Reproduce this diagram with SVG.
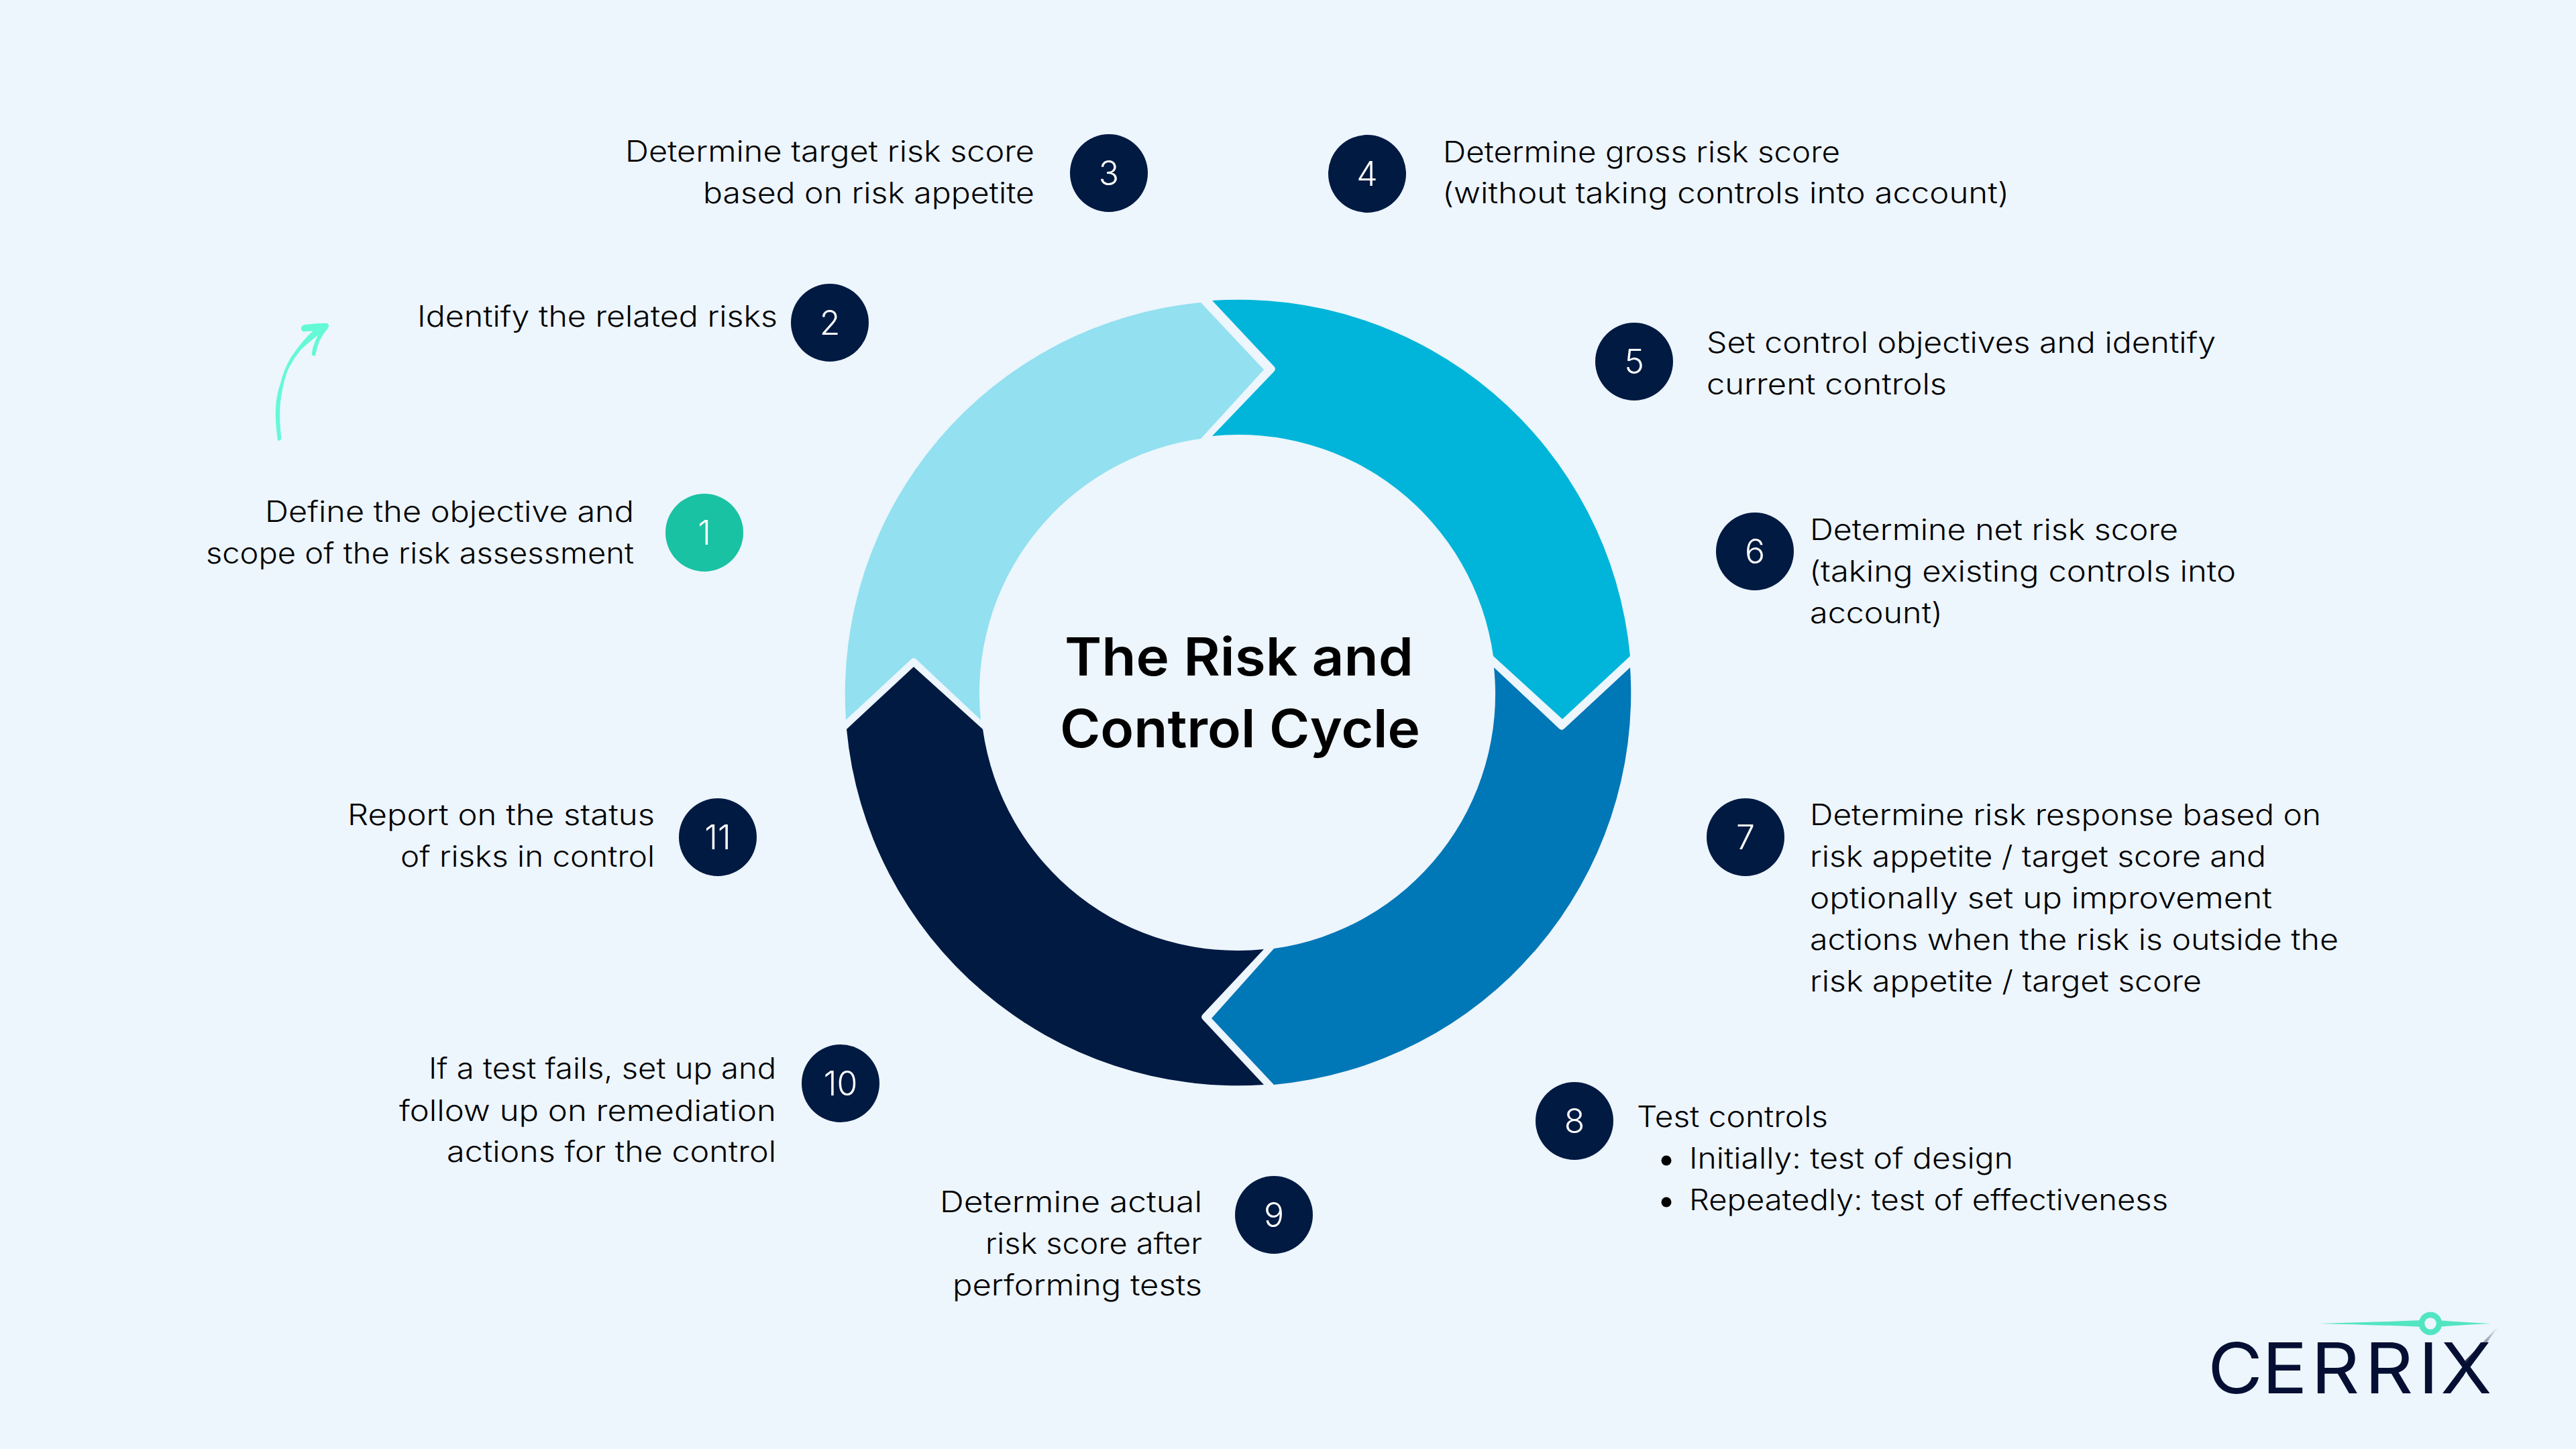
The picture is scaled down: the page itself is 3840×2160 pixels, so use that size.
<svg xmlns="http://www.w3.org/2000/svg" width="3840" height="2160" viewBox="0 0 3840 2160">
<defs>
<linearGradient id="streak" gradientUnits="userSpaceOnUse" x1="3676" y1="2034" x2="3725" y2="1976"><stop offset="0" stop-color="#1E2640"/><stop offset="1" stop-color="#1E2640" stop-opacity="0"/></linearGradient>
</defs>
<style>
text{font-family:"Inter","Liberation Sans",sans-serif}
.t{font-size:43px;font-weight:300;fill:#000}
.n{font-size:50px;font-weight:300;fill:#fff;text-anchor:middle}
.c{fill:#001A42}
.title{font-size:78px;font-weight:600;fill:#000}
.logo{font-size:105px;font-weight:400;fill:#040F33}
</style>
<rect width="3840" height="2160" fill="#EDF5FD"/>
<g id="ring">
<path id="segment-light" fill="#92E0F0" d="M1790 451 L1884 551 L1790 654 A383 383 0 0 0 1462 1073 L1366 983 Q1362 979 1358 983 L1261 1073 A586 586 0 0 1 1790 451 Z"/>
<path id="segment-cyan" fill="#00B5D9" d="M1807 448 L1899 546 Q1903 550 1899 554 L1807 650 A383 383 0 0 1 2226 978 L2329 1072 L2430 978 A586 586 0 0 0 1807 448 Z"/>
<path id="segment-blue" fill="#0077B6" d="M2227 995 L2324 1086 Q2328 1090 2332 1086 L2430 995 A586 586 0 0 1 1899 1617 L1806 1518 L1899 1414 A383 383 0 0 0 2227 995 Z"/>
<path id="segment-navy" fill="#001A42" d="M1884 1415 L1793 1512 Q1789 1516 1793 1520 L1884 1617 A586 586 0 0 1 1262 1087 L1362 994 L1465 1087 A383 383 0 0 0 1884 1415 Z"/>
</g>
<g id="title">
<text class="title" x="1587" y="1007" textLength="520" lengthAdjust="spacingAndGlyphs">The Risk and</text>
<text class="title" x="1580" y="1114" textLength="537" lengthAdjust="spacingAndGlyphs">Control Cycle</text>
</g>
<g id="connectors">
<path fill="#64F9D7" stroke="#64F9D7" stroke-width="2.5" stroke-linejoin="round" d="M415 655 C411 625 410 597 419 573 C423 555 428 545 435 533 C445 518 456 504 470 492 L452 493 Q449 490 451 487 Q453 485 457 485 Q472 483 487 483 Q490 485 488 488 Q480 498 475 508 Q471 518 469 529 Q466 530 466 527 Q467 519 470 512 Q473 503 478 495 Q462 507 448 520 C440 530 433 540 427 553 C422 567 419 582 417 597 C415 615 416 635 418 653 Q417 657 415 655 Z"/>
</g>
<g id="node-1"><circle cx="1050" cy="794" r="58" fill="#19C2A2"/><text class="n" x="1050" y="812">1</text>
<text class="t" x="395" y="778" textLength="550" lengthAdjust="spacingAndGlyphs">Define the objective and</text>
<text class="t" x="307" y="840" textLength="638" lengthAdjust="spacingAndGlyphs">scope of the risk assessment</text></g>
<g id="node-2"><circle class="c" cx="1237" cy="481" r="58"/><text class="n" x="1237" y="499">2</text>
<text class="t" x="622" y="487" textLength="537" lengthAdjust="spacingAndGlyphs">Identify the related risks</text></g>
<g id="node-3"><circle class="c" cx="1653" cy="258" r="58"/><text class="n" x="1653" y="276">3</text>
<text class="t" x="932" y="241" textLength="610" lengthAdjust="spacingAndGlyphs">Determine target risk score</text>
<text class="t" x="1048" y="303" textLength="494" lengthAdjust="spacingAndGlyphs">based on risk appetite</text></g>
<g id="node-4"><circle class="c" cx="2038" cy="259" r="58"/><text class="n" x="2038" y="277">4</text>
<text class="t" x="2151" y="242" textLength="592" lengthAdjust="spacingAndGlyphs">Determine gross risk score</text>
<text class="t" x="2150" y="303" textLength="845" lengthAdjust="spacingAndGlyphs">(without taking controls into account)</text></g>
<g id="node-5"><circle class="c" cx="2436" cy="539" r="58"/><text class="n" x="2436" y="557">5</text>
<text class="t" x="2544" y="526" textLength="759" lengthAdjust="spacingAndGlyphs">Set control objectives and identify</text>
<text class="t" x="2544" y="588" textLength="358" lengthAdjust="spacingAndGlyphs">current controls</text></g>
<g id="node-6"><circle class="c" cx="2616" cy="822" r="58"/><text class="n" x="2616" y="840">6</text>
<text class="t" x="2698" y="805" textLength="549" lengthAdjust="spacingAndGlyphs">Determine net risk score</text>
<text class="t" x="2697" y="867" textLength="636" lengthAdjust="spacingAndGlyphs">(taking existing controls into</text>
<text class="t" x="2698" y="929" textLength="198" lengthAdjust="spacingAndGlyphs">account)</text></g>
<g id="node-7"><circle class="c" cx="2602" cy="1248" r="58"/><text class="n" x="2602" y="1266">7</text>
<text class="t" x="2698" y="1230" textLength="762" lengthAdjust="spacingAndGlyphs">Determine risk response based on</text>
<text class="t" x="2698" y="1292" textLength="680" lengthAdjust="spacingAndGlyphs">risk appetite / target score and</text>
<text class="t" x="2698" y="1354" textLength="689" lengthAdjust="spacingAndGlyphs">optionally set up improvement</text>
<text class="t" x="2698" y="1416" textLength="788" lengthAdjust="spacingAndGlyphs">actions when the risk is outside the</text>
<text class="t" x="2698" y="1478" textLength="584" lengthAdjust="spacingAndGlyphs">risk appetite / target score</text></g>
<g id="node-8"><circle class="c" cx="2347" cy="1671" r="58"/><text class="n" x="2347" y="1689">8</text>
<text class="t" x="2440" y="1680" textLength="285" lengthAdjust="spacingAndGlyphs">Test controls</text>
<circle cx="2484" cy="1730" r="7.5"/><circle cx="2484" cy="1792" r="7.5"/>
<text class="t" x="2518" y="1742" textLength="483" lengthAdjust="spacingAndGlyphs">Initially: test of design</text>
<text class="t" x="2518" y="1804" textLength="714" lengthAdjust="spacingAndGlyphs">Repeatedly: test of effectiveness</text></g>
<g id="node-9"><circle class="c" cx="1899" cy="1811" r="58"/><text class="n" x="1899" y="1829">9</text>
<text class="t" x="1401" y="1807" textLength="391" lengthAdjust="spacingAndGlyphs">Determine actual</text>
<text class="t" x="1469" y="1869" textLength="323" lengthAdjust="spacingAndGlyphs">risk score after</text>
<text class="t" x="1420" y="1931" textLength="372" lengthAdjust="spacingAndGlyphs">performing tests</text></g>
<g id="node-10"><circle class="c" cx="1253" cy="1615" r="58"/><text class="n" x="1253" y="1633">10</text>
<text class="t" x="639" y="1608" textLength="518" lengthAdjust="spacingAndGlyphs">If a test fails, set up and</text>
<text class="t" x="595" y="1671" textLength="562" lengthAdjust="spacingAndGlyphs">follow up on remediation</text>
<text class="t" x="666" y="1732" textLength="491" lengthAdjust="spacingAndGlyphs">actions for the control</text></g>
<g id="node-11"><circle class="c" cx="1070" cy="1248" r="58"/><text class="n" x="1070" y="1266">11</text>
<text class="t" x="518" y="1230" textLength="458" lengthAdjust="spacingAndGlyphs">Report on the status</text>
<text class="t" x="597" y="1292" textLength="379" lengthAdjust="spacingAndGlyphs">of risks in control</text></g>
<g id="logo">
<path fill="#52E5C2" d="M3458 1973 Q3540 1971 3612 1968 L3612 1978 Q3540 1975 3458 1973 Z M3713 1973 Q3670 1971 3634 1968 L3634 1978 Q3670 1975 3713 1973 Z"/>
<circle cx="3623" cy="1973" r="13" fill="none" stroke="#52E5C2" stroke-width="8.5"/>
<path fill="url(#streak)" d="M3672 2031 L3682 2038 L3725 1976 Z"/>
<text class="logo" transform="translate(3291 2077) scale(1.07 1)" y="0" x="0 75.7 143.9 218.7 293.5 324.3">CERRIX</text>
</g>
</svg>
